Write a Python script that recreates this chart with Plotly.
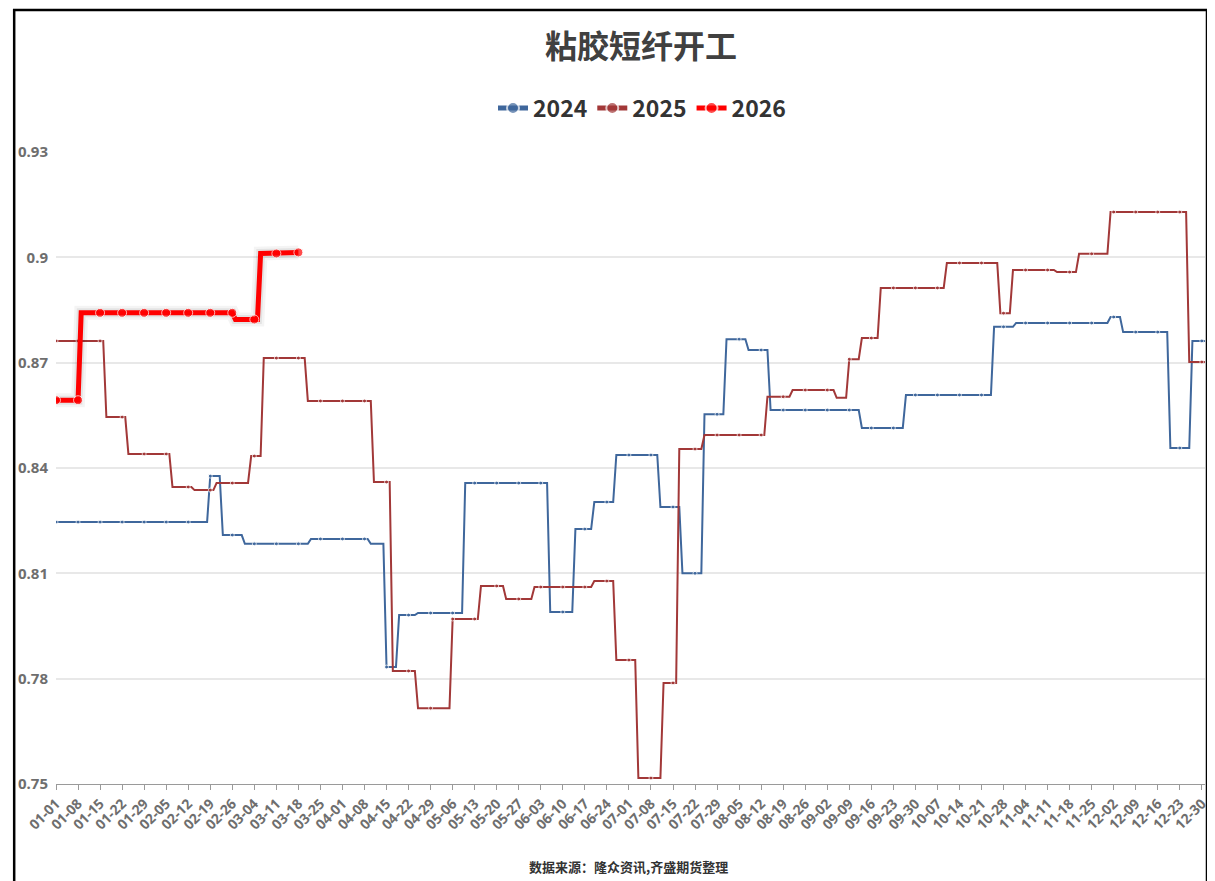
import pandas as pd
import plotly.graph_objects as go

# ---- categories (daily, MM-DD, leap-year calendar) ----
days = pd.date_range("2024-01-01", "2024-12-31", freq="D").strftime("%m-%d").tolist()
tick_labels = days[::7]
y_ticks = [0.75, 0.78, 0.81, 0.84, 0.87, 0.90, 0.93]
y_tick_text = ["0.75", "0.78", "0.81", "0.84", "0.87", "0.9", "0.93"]

# ---- series: start date of each level and its value ----
d2024 = ["01-01", "02-19", "02-23", "03-01", "03-22", "04-10", "04-15", "04-19", "04-25",
         "05-10", "06-06", "06-14", "06-20", "06-27", "07-11", "07-18", "07-25", "08-01",
         "08-08", "08-15", "09-13", "09-27", "10-25", "11-01", "12-01", "12-05", "12-20", "12-27"]
v2024 = [0.8246, 0.8377, 0.8209, 0.8184, 0.8198, 0.8184, 0.7833, 0.7981, 0.7987,
         0.8357, 0.7990, 0.8226, 0.8303, 0.8437, 0.8289, 0.8100, 0.8553, 0.8767,
         0.8736, 0.8565, 0.8514, 0.8608, 0.8802, 0.8813, 0.8830, 0.8787, 0.8457, 0.8762]
end2024 = "12-31"

d2025 = ["01-01", "01-17", "01-24", "02-07", "02-14", "02-21", "03-03", "03-07", "03-21",
         "04-11", "04-17", "04-25", "05-06", "05-15", "05-23", "06-01", "06-20", "06-27",
         "07-04", "07-12", "07-17", "07-25", "08-14", "08-22", "09-05", "09-09", "09-13",
         "09-19", "10-10", "10-27", "10-31", "11-14", "11-21", "12-01", "12-26"]
v2025 = [0.8762, 0.8545, 0.8440, 0.8346, 0.8337, 0.8357, 0.8434, 0.8713, 0.8591,
         0.8360, 0.7822, 0.7716, 0.7970, 0.8064, 0.8027, 0.8061, 0.8078, 0.7853,
         0.7517, 0.7788, 0.8454, 0.8494, 0.8603, 0.8622, 0.8600, 0.8710, 0.8770,
         0.8913, 0.8984, 0.8841, 0.8964, 0.8958, 0.9010, 0.9129, 0.8702]
end2025 = "12-31"

d2026 = ["01-01", "01-09", "02-27", "03-06", "03-13"]
v2026 = [0.8593, 0.8842, 0.8823, 0.9011, 0.9014]
end2026 = "03-18"


def step_series(dates, vals, end):
    s = pd.Series(vals, index=dates).reindex(days).ffill()
    return s.iloc[: days.index(end) + 1]


s24 = step_series(d2024, v2024, end2024)
s25 = step_series(d2025, v2025, end2025)
s26 = step_series(d2026, v2026, end2026)


def msizes(s, size):
    return [size if i % 7 == 0 else 0 for i in range(len(s))]


C24 = "#3f679c"
C25 = "#a23838"
C26 = "#ff0000"

fig = go.Figure()
fig.add_trace(go.Scatter(x=s24.index, y=s24.values, name="2024", mode="lines+markers",
                         line=dict(color=C24, width=2),
                         marker=dict(color=C24, size=msizes(s24, 4))))
fig.add_trace(go.Scatter(x=s25.index, y=s25.values, name="2025", mode="lines+markers",
                         line=dict(color=C25, width=2),
                         marker=dict(color=C25, size=msizes(s25, 4))))
# soft shadow under the 2026 line
for w, a in [(14, 0.045), (9, 0.065)]:
    fig.add_trace(go.Scatter(x=s26.index, y=s26.values, mode="lines", showlegend=False,
                             hoverinfo="skip", line=dict(color=f"rgba(0,0,0,{a})", width=w)))
fig.add_trace(go.Scatter(x=s26.index, y=s26.values, name="2026", mode="lines+markers",
                         line=dict(color=C26, width=5),
                         marker=dict(color=C26, size=msizes(s26, 9))))

# page is rendered with an 8px body margin; lay out in page pixels
OFF = 8
W, H = 1215 - OFF, 881 - OFF
P_LEFT, P_RIGHT, P_TOP, P_BOTTOM = 56, 1210, 152, 784   # plot area in page pixels
L = P_LEFT - OFF
R = W - (P_RIGHT - OFF)
T = P_TOP - OFF
B = H - (P_BOTTOM - OFF)
pw, ph = W - L - R, H - T - B


def px(x):
    return (x - P_LEFT) / pw


def py(y):
    return (P_BOTTOM - y) / ph


fig.update_layout(
    width=W, height=H,
    margin=dict(l=L, r=R, t=T, b=B),
    paper_bgcolor="white", plot_bgcolor="white",
    title=dict(text="<b>粘胶短纤开工</b>", x=(641 - OFF) / W, xanchor="center",
               y=1 - (47 - OFF) / H, yanchor="middle",
               font=dict(family="Noto Sans CJK SC", size=32, color="#404040")),
    legend=dict(orientation="h", xref="container", yref="container",
                x=(642 - OFF) / W, xanchor="center", y=1 - (108 - OFF) / H, yanchor="middle",
                itemsizing="constant", itemwidth=30,
                font=dict(family="Noto Sans CJK SC", size=23, color="#333333", weight="bold")),
    xaxis=dict(type="category", categoryorder="array", categoryarray=days,
               range=[0, len(days) - 1], tickmode="array", tickvals=tick_labels,
               ticktext=tick_labels, tickangle=-45, ticks="outside", ticklen=5,
               tickcolor="#9a9a9a", showline=True, linecolor="#9a9a9a", linewidth=1,
               showgrid=False, zeroline=False,
               tickfont=dict(family="Noto Sans", size=14, color="#6e6e6e", weight="bold")),
    yaxis=dict(range=[0.75, 0.93], tickmode="array", tickvals=y_ticks, ticktext=y_tick_text,
               showgrid=True, gridcolor="#e8e8e8", gridwidth=1.5, showline=False,
               zeroline=False, ticks="", ticklabelstandoff=7,
               tickfont=dict(family="Noto Sans", size=15, color="#6e6e6e", weight="bold")),
    annotations=[dict(text="<b>数据来源：隆众资讯,齐盛期货整理</b>", xref="paper", yref="paper",
                      x=px(631), y=py(866), xanchor="center", yanchor="middle",
                      showarrow=False,
                      font=dict(family="Noto Sans CJK SC", size=13, color="#333333"))],
    shapes=[
        dict(type="rect", xref="paper", yref="paper", x0=px(14), x1=px(1212),
             y0=py(895), y1=py(10), line=dict(color="black", width=2.5), layer="above"),
    ],
)

fig.write_html("out.html")
